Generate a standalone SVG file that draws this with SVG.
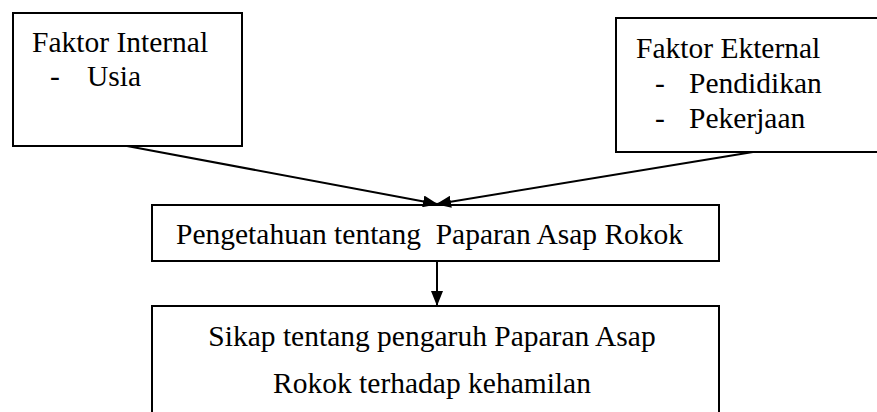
<svg xmlns="http://www.w3.org/2000/svg" width="877" height="412" viewBox="0 0 877 412">
<style>
.box{fill:#fff;stroke:#000;stroke-width:2}
.t{font-family:"Liberation Serif","Times New Roman","DejaVu Serif",serif;font-size:29.5px;fill:#000;white-space:pre}
.c{stroke:#000;stroke-width:2;fill:none}
</style>
<defs>
<marker id="ah" markerWidth="15" markerHeight="12" refX="14" refY="6" orient="auto" markerUnits="userSpaceOnUse">
<path d="M0,0 L15,6 L0,12 Z" fill="#000"/>
</marker>
</defs>
<rect width="877" height="412" fill="#fff"/>
<g id="faktor-internal">
<rect class="box" x="13" y="13" width="229" height="133"/>
<text class="t" x="32" y="52">Faktor Internal</text>
<text class="t" x="50" y="86">-</text>
<text class="t" x="87" y="86">Usia</text>
</g>
<g id="faktor-eksternal">
<rect class="box" x="616" y="18" width="270" height="134"/>
<text class="t" x="636" y="58">Faktor Ekternal</text>
<text class="t" x="655" y="93">-</text>
<text class="t" x="689" y="93">Pendidikan</text>
<text class="t" x="655" y="128">-</text>
<text class="t" x="689" y="128">Pekerjaan</text>
</g>
<g id="pengetahuan">
<rect class="box" x="152" y="205" width="567" height="56"/>
<text class="t" x="176" y="244">Pengetahuan tentang  Paparan Asap Rokok</text>
</g>
<g id="sikap">
<path class="c" d="M152,430 V306 H719 V430"/>
<text class="t" x="432" y="346" text-anchor="middle">Sikap tentang pengaruh Paparan Asap</text>
<text class="t" x="432" y="393" text-anchor="middle">Rokok terhadap kehamilan</text>
</g>
<g id="connectors">
<line class="c" x1="127" y1="146" x2="437" y2="204" marker-end="url(#ah)"/>
<line class="c" x1="753" y1="152" x2="437" y2="204" marker-end="url(#ah)"/>
<line class="c" x1="437" y1="261" x2="437" y2="305" marker-end="url(#ah)"/>
</g>
</svg>
